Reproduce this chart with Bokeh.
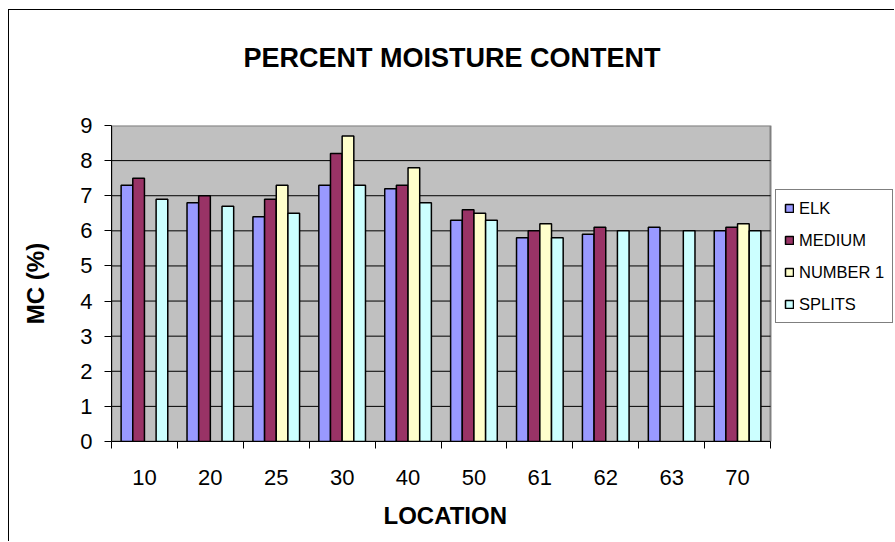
import numpy as np
from bokeh.plotting import figure
from bokeh.models import ColumnDataSource, FixedTicker, Legend, LegendItem, Range1d, Title
from bokeh.transform import dodge
from bokeh.embed import file_html
from bokeh.resources import INLINE

locations = ["10", "20", "25", "30", "40", "50", "61", "62", "63", "70"]
nan = float("nan")
elk = [7.3, 6.8, 6.4, 7.3, 7.2, 6.3, 5.8, 5.9, 6.1, 6.0]
medium = [7.5, 7.0, 6.9, 8.2, 7.3, 6.6, 6.0, 6.1, nan, 6.1]
number1 = [nan, nan, 7.3, 8.7, 7.8, 6.5, 6.2, nan, nan, 6.2]
splits = [6.9, 6.7, 6.5, 7.3, 6.8, 6.3, 5.8, 6.0, 6.0, 6.0]
series_names = ["ELK", "MEDIUM", "NUMBER 1", "SPLITS"]
series_colors = ["#9999FF", "#993366", "#FFFFCC", "#CCFFFF"]
y_ticks = [0, 1, 2, 3, 4, 5, 6, 7, 8, 9]

FONT = "Liberation Sans"
n = len(locations)
y_max = y_ticks[-1]
centers = np.arange(n) + 0.5

# layout (pixels)
W, H = 886, 532
ML, MR, MT, MB = 102, 2, 113, 101
frame_w = W - ML - MR
plot_w = 659  # pixel width of the grey plot area
x_end = n * frame_w / plot_w

p = figure(width=W, height=H, output_backend="svg", toolbar_location=None,
           x_range=Range1d(0, x_end), y_range=Range1d(0, y_max),
           min_border_left=ML, min_border_right=MR,
           min_border_top=MT, min_border_bottom=MB,
           background_fill_color="white", border_fill_color="white",
           outline_line_color=None)
p.styles = {"border-left": "1px solid black", "border-top": "1px solid black",
            "margin-left": "8px", "margin-top": "9px"}

p.title.text = "PERCENT MOISTURE CONTENT"
p.title.align = "left"
p.title.offset = 132
p.title.text_font = FONT
p.title.text_font_size = "27px"
p.title.text_font_style = "bold"
p.title.text_color = "black"
p.title.standoff = 60

# spacer between the frame and the chart title
spacer = Title(text=" ", text_font_size="10px", standoff=10)
p.add_layout(spacer, "above")

# grey plot area and grid lines
p.quad(left=0, right=n, bottom=0, top=y_max, fill_color="#C0C0C0",
       line_color="#808080", line_width=2)
grid_vals = y_ticks[1:-1]
p.segment(x0=[0] * len(grid_vals), x1=[n] * len(grid_vals), y0=grid_vals, y1=grid_vals,
          line_color="black", line_width=1)

bar_w = 0.177
offsets = [-1.5 * bar_w, -0.5 * bar_w, 0.5 * bar_w, 1.5 * bar_w]
items = []
for name, vals, col, off in zip(series_names, [elk, medium, number1, splits], series_colors, offsets):
    src = ColumnDataSource(dict(x=centers, top=vals))
    r = p.vbar(x=dodge("x", off), top="top", bottom=0, width=bar_w, source=src,
               fill_color=col, line_color="black", line_width=1.5)
    items.append(LegendItem(label=name, renderers=[r]))

# axes
p.xaxis.bounds = (0, n)
p.xaxis.ticker = FixedTicker(ticks=list(centers), minor_ticks=list(range(n + 1)))
p.xaxis.major_label_overrides = {float(c): lab for c, lab in zip(centers, locations)}
p.xaxis.major_tick_out = 0
p.xaxis.major_tick_in = 0
p.xaxis.minor_tick_out = 7
p.xaxis.minor_tick_in = 0
p.xaxis.minor_tick_line_color = "black"
p.xaxis.axis_line_color = "black"
p.xaxis.major_label_text_font = FONT
p.xaxis.major_label_text_font_size = "22px"
p.xaxis.major_label_text_color = "black"
p.xaxis.major_label_standoff = 21

xlabel = Title(text="LOCATION", align="left", offset=272, standoff=24,
               text_font=FONT, text_font_size="24px", text_font_style="bold",
               text_color="black")
p.add_layout(xlabel, "below")

p.yaxis.ticker = FixedTicker(ticks=y_ticks)
p.yaxis.major_tick_out = 7
p.yaxis.major_tick_in = 0
p.yaxis.minor_tick_out = 0
p.yaxis.minor_tick_in = 0
p.yaxis.axis_line_color = "black"
p.yaxis.major_label_text_font = FONT
p.yaxis.major_label_text_font_size = "22px"
p.yaxis.major_label_text_color = "black"
p.yaxis.major_label_standoff = 12
p.yaxis.axis_label = "MC (%)"
p.yaxis.axis_label_text_font = FONT
p.yaxis.axis_label_text_font_size = "24px"
p.yaxis.axis_label_text_font_style = "bold"
p.yaxis.axis_label_text_color = "black"
p.yaxis.axis_label_standoff = 28

p.xgrid.grid_line_color = None
p.ygrid.grid_line_color = None

legend = Legend(items=items, location=(664, 118), margin=0, padding=8,
                glyph_width=10, glyph_height=10, label_height=20, spacing=12,
                label_standoff=5, label_text_font=FONT, label_text_font_size="16.5px",
                label_text_color="black",
                border_line_color="black", border_line_width=1,
                background_fill_color="white", background_fill_alpha=1.0)
p.add_layout(legend, "center")

open("out.html", "w").write(file_html(p, INLINE))
